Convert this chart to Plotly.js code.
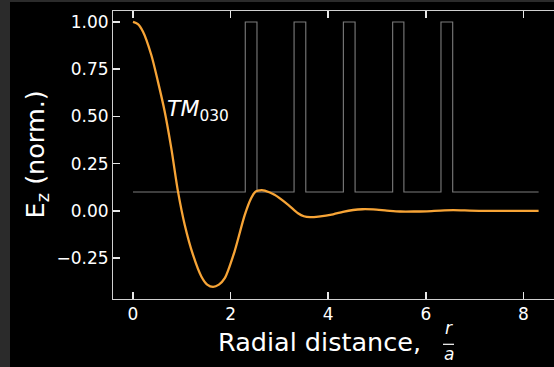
<!DOCTYPE html>
<html>
<head>
<meta charset="utf-8">
<script src="https://cdn.plot.ly/plotly-3.0.1.min.js"></script>
<style>
html, body { margin:0; padding:0; overflow:hidden; background:#2b2b2b; width:554px; height:367px; }
#plot { position:absolute; left:10px; top:2px; width:556px; height:365px; background:#000; }
</style>
</head>
<body>
<div id="plot"></div>
<script>
// Field profile E_z (normalised) vs radial distance r/a
const radius = [0, 0.1, 0.205, 0.375, 0.512, 0.65, 0.785, 0.922, 1.06, 1.23, 1.40, 1.52, 1.64, 1.76, 1.88, 2.08, 2.29, 2.42, 2.50, 2.56, 2.64, 2.70, 2.90, 3.18, 3.38, 3.50, 3.63, 3.80, 4.10, 4.30, 4.51, 4.70, 4.92, 5.20, 5.47, 5.80, 6.02, 6.30, 6.56, 6.90, 7.25, 7.80, 8.31];
const ezNorm = [1.0, 0.988, 0.948, 0.825, 0.683, 0.525, 0.331, 0.102, -0.074, -0.233, -0.347, -0.39, -0.402, -0.39, -0.356, -0.215, -0.021, 0.067, 0.100, 0.107, 0.110, 0.107, 0.085, 0.032, -0.012, -0.028, -0.033, -0.030, -0.018, -0.005, 0.005, 0.009, 0.008, 0.002, -0.003, -0.003, -0.002, 0.002, 0.004, 0.002, 0.0, 0.0, 0.0];

// Step profile (ring edges)
const stepR = [0, 2.30, 2.54, 3.30, 3.54, 4.31, 4.55, 5.32, 5.55, 6.31, 6.55, 8.31];
const stepLevel = [0.1, 1, 0.1, 1, 0.1, 1, 0.1, 1, 0.1, 1, 0.1, 0.1];

const xTicks = [0, 2, 4, 6, 8];
const yTicks = [-0.25, 0.00, 0.25, 0.50, 0.75, 1.00];
const modeLabel = '<i>TM</i><sub>030</sub>';
const FONT = '"DejaVu Sans", sans-serif';

const traces = [
  { x: stepR, y: stepLevel, type: 'scatter', mode: 'lines', line: { shape: 'hv', color: '#7c7c7c', width: 1.1 } },
  { x: radius, y: ezNorm, type: 'scatter', mode: 'lines', line: { shape: 'spline', smoothing: 0.8, color: '#f7a436', width: 2.3 } }
];

function axis(extra) {
  return Object.assign({
    showgrid: false, zeroline: false, showline: true, linecolor: '#d0d0d0', linewidth: 1,
    mirror: 'allticks', ticks: 'inside', ticklen: 7, tickwidth: 1.5, tickcolor: '#e8e8e8',
    tickfont: { family: FONT, size: 17, color: '#ffffff' }
  }, extra);
}

const layout = {
  width: 556, height: 365,
  margin: { l: 103, r: 3, t: 9, b: 68 },
  font: { family: FONT, size: 17, color: '#ffffff' },
  paper_bgcolor: '#000000', plot_bgcolor: '#000000',
  showlegend: false,
  xaxis: axis({ range: [-0.41, 8.81], tickmode: 'array', tickvals: xTicks, ticktext: xTicks.map(String) }),
  yaxis: axis({ range: [-0.466, 1.058], tickmode: 'array', tickvals: yTicks, tickformat: '.2f' }),
  annotations: [
    { text: modeLabel, x: 0.66, y: 0.53, xref: 'x', yref: 'y', xanchor: 'left', yanchor: 'middle', showarrow: false,
      font: { family: FONT, size: 22, color: '#ffffff' } },
    { text: 'Radial distance,', x: 0.229, y: -0.149, xref: 'paper', yref: 'paper', xanchor: 'left', yanchor: 'middle', showarrow: false,
      font: { family: FONT, size: 25.5, color: '#ffffff' } },
    { text: '<i>r</i>', x: 0.747, y: -0.102, xref: 'paper', yref: 'paper', xanchor: 'center', yanchor: 'middle', showarrow: false,
      font: { family: FONT, size: 17, color: '#ffffff' } },
    { text: '<i>a</i>', x: 0.747, y: -0.19, xref: 'paper', yref: 'paper', xanchor: 'center', yanchor: 'middle', showarrow: false,
      font: { family: FONT, size: 17, color: '#ffffff' } },
    { text: 'E<sub>z</sub> (norm.)', x: -0.171, y: 0.502, xref: 'paper', yref: 'paper', xanchor: 'center', yanchor: 'middle', textangle: -90, showarrow: false,
      font: { family: FONT, size: 25.5, color: '#ffffff' } }
  ],
  shapes: [
    { type: 'line', xref: 'paper', yref: 'paper', x0: 0.7333, x1: 0.7578, y0: -0.1573, y1: -0.1573, line: { color: '#ffffff', width: 1.2 } }
  ]
};

Plotly.newPlot('plot', traces, layout, { staticPlot: true, displayModeBar: false });
</script>
</body>
</html>
